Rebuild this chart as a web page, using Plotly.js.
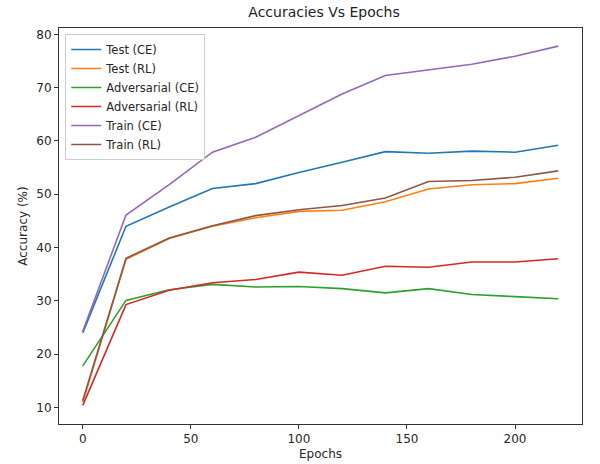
<!DOCTYPE html>
<html>
<head>
<meta charset="utf-8">
<script src="https://cdn.plot.ly/plotly-3.0.1.min.js"></script>
<style>html,body{margin:0;padding:0;background:#fff;}#chart{width:600px;height:464px;}</style>
</head>
<body>
<div id="chart"></div>
<script>
const epochs = [0, 20, 40, 60, 80, 100, 120, 140, 160, 180, 200, 220];
const testCE = [24.0, 44.0, 47.6, 51.1, 52.0, 54.1, 56.0, 58.0, 57.7, 58.1, 57.9, 59.2];
const testRL = [11.0, 37.8, 41.7, 44.0, 45.6, 46.8, 47.0, 48.6, 51.0, 51.8, 52.0, 53.0];
const advCE = [17.8, 30.1, 32.1, 33.1, 32.6, 32.7, 32.3, 31.5, 32.3, 31.2, 30.8, 30.4];
const advRL = [10.4, 29.3, 32.0, 33.4, 34.0, 35.4, 34.8, 36.5, 36.3, 37.3, 37.3, 37.9];
const trainCE = [24.3, 46.1, 51.8, 57.9, 60.7, 64.7, 68.8, 72.3, 73.4, 74.4, 75.9, 77.8];
const trainRL = [11.3, 38.0, 41.8, 44.1, 46.0, 47.1, 47.9, 49.3, 52.4, 52.6, 53.2, 54.4];

const seriesNames = ['Test (CE)', 'Test (RL)', 'Adversarial (CE)', 'Adversarial (RL)', 'Train (CE)', 'Train (RL)'];
const seriesData = [testCE, testRL, advCE, advRL, trainCE, trainRL];
const colors = ['#1f77b4', '#ff7f0e', '#2ca02c', '#d62728', '#9467bd', '#8c564b'];

const traces = seriesData.map((ys, i) => ({
  x: epochs, y: ys, name: seriesNames[i], type: 'scatter', mode: 'lines',
  line: {color: colors[i], width: 1.6}
}));

const font = {family: 'DejaVu Sans, sans-serif', size: 12, color: '#262626'};
const layout = {
  width: 600, height: 464,
  margin: {l: 59, r: 18, t: 28, b: 40},
  paper_bgcolor: '#fff', plot_bgcolor: '#fff',
  font: font,
  title: {text: 'Accuracies Vs Epochs', font: {family: 'DejaVu Sans, sans-serif', size: 14, color: '#222'}, x: 0.54, xanchor: 'center', y: 0.985, yanchor: 'top'},
  xaxis: {
    range: [-11, 231], showgrid: false, zeroline: false,
    tickvals: [0, 50, 100, 150, 200], ticks: 'outside', ticklen: 4, tickcolor: '#333',
    showline: true, mirror: true, linecolor: '#333', linewidth: 1,
    title: {text: 'Epochs', font: {size: 12}, standoff: 4}
  },
  yaxis: {
    range: [6.9, 81.2], showgrid: false, zeroline: false,
    tickvals: [10, 20, 30, 40, 50, 60, 70, 80], ticks: 'outside', ticklen: 4, tickcolor: '#333',
    showline: true, mirror: true, linecolor: '#333', linewidth: 1,
    title: {text: 'Accuracy (%)', font: {size: 12}, standoff: 6}
  },
  legend: {
    x: 0.012, y: 0.985, xanchor: 'left', yanchor: 'top',
    bgcolor: 'rgba(255,255,255,0.8)', bordercolor: '#ccc', borderwidth: 1,
    font: {size: 11.5}, tracegroupgap: 0
  },
  showlegend: true
};

Plotly.newPlot('chart', traces, layout, {staticPlot: true, displayModeBar: false});
</script>
</body>
</html>
